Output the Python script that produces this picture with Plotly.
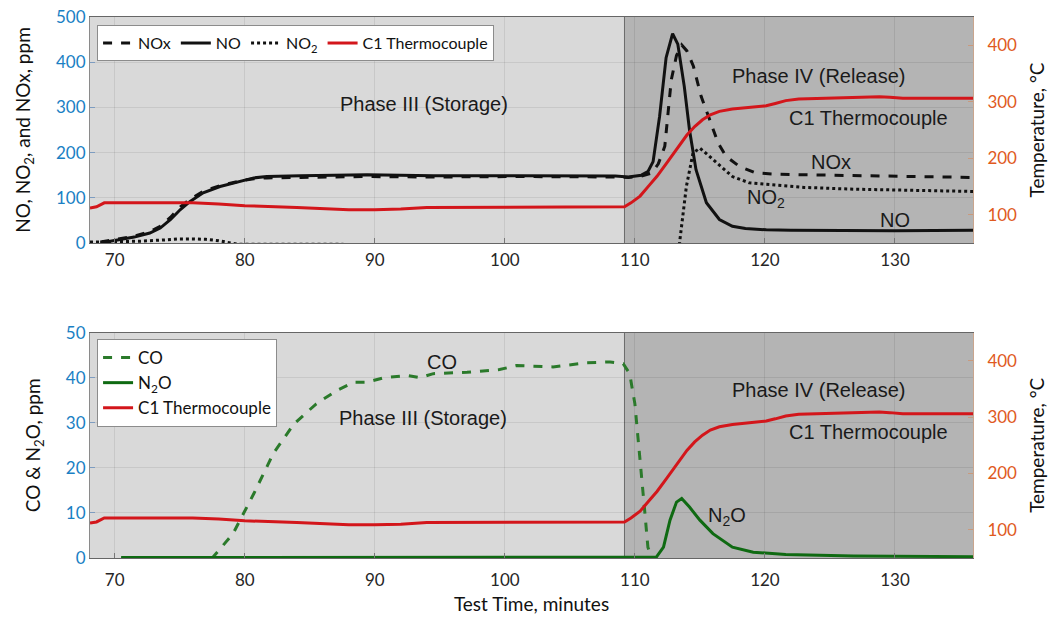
import plotly.graph_objects as go
from plotly.subplots import make_subplots

# ---------------- data ----------------
# Thermocouple C1 temperature (deg C)
temp_t = [68.1, 68.6, 69.2, 70, 73, 76, 78, 80, 84, 88, 90, 92, 94, 100, 105, 109.2, 109.7, 110.4,
          111.1, 111.7, 112.4, 113.2, 114.0, 114.6, 115.2, 115.8, 116.5, 117.5, 119.0, 120.1, 120.8,
          121.6, 122.6, 124.2, 126.5, 128.8, 129.6, 130.6, 133, 136]
temp_v = [112, 114, 121, 121, 121, 121, 119, 116, 113, 109, 109, 110, 113, 113, 113, 114, 121, 133,
          152, 168, 190, 215, 241, 256, 268, 277, 283, 287, 290, 293, 297, 302, 305, 306, 308, 309,
          308, 306, 306, 306]

# NO (ppm)
no_t = [68.9, 70.2, 71.5, 72.7, 73.5, 74.3, 75.05, 75.8, 76.8, 78.1, 79.6, 80.7, 81.7, 84.3, 89.4,
        94.5, 101, 108.5, 109.5, 110.5, 111.0, 111.4, 111.9, 112.4, 112.9, 113.3, 113.8, 114.2, 114.7,
        115.5, 116.5, 117.5, 118.5, 120.1, 122, 125, 130, 136]
no_v = [0, 7, 13, 22, 33, 52, 74, 92, 111, 125, 136, 144, 147, 149, 151, 149, 149, 148, 146, 150, 158,
        180, 280, 410, 463, 440, 346, 250, 162, 89, 52, 37, 32, 29, 28, 27, 27, 28]

# NOx (ppm)
nox_t = [68.9, 70.2, 71.5, 72.7, 73.5, 74.3, 75.05, 75.8, 76.8, 78.1, 79.6, 80.7, 81.7, 84.3, 89.4,
         94.5, 101, 108.5, 109.5, 110.5, 111.3, 111.8, 112.3, 112.8, 113.2, 113.6, 114.0, 114.5, 115.1,
         115.75, 116.4, 117.0, 118.05, 119.3, 121, 125, 130, 136]
nox_v = [2, 9, 15, 25, 37, 57, 80, 97, 114, 127, 137, 142, 144, 145, 147, 146, 147, 146, 145, 148, 155,
         175, 214, 361, 415, 438, 425, 391, 324, 273, 221, 192, 169, 155, 152, 150, 148, 145]

# NO2 (ppm)
no2_t = [68.1, 70, 72, 74, 75, 76, 77, 78, 78.6, 79.5, 85, 95, 105, 110, 112, 113.0, 113.45, 113.96,
         114.47, 115.0, 115.6, 116.3, 117.5, 118.8, 120.6, 123, 126.8, 130, 136]
no2_v = [2, 3, 4, 7, 9, 9, 8, 5, 2, -3, -3, -3, -3, -4, -10, -150, 4, 125, 199, 210, 195, 177, 147,
         133, 128, 123, 119, 117, 114]

# CO (ppm)
co_t = [70.5, 74, 77.5, 79.1, 80.7, 82.2, 83.8, 85.5, 87.1, 88.4, 89.4, 90.7, 92.5, 93.5, 94.5, 97.1,
        99.6, 100.9, 103.7, 106.3, 108.1, 109.1, 109.6, 110.0, 110.25, 110.5, 110.75, 111.0, 111.3]
co_v = [0, 0, 0, 5.4, 14.3, 23.2, 29.8, 34.2, 37.2, 39.0, 39.0, 40.0, 40.5, 40.0, 40.9, 41.2, 41.8,
        42.7, 42.4, 43.3, 43.5, 43.1, 40.9, 34.2, 26.8, 19.5, 10.6, 2.4, 0]

# N2O (ppm)
n2o_t = [70.5, 80, 90, 100, 108, 111.0, 111.65, 112.2, 112.7, 113.2, 113.6, 114.2, 115.0, 116.0, 117.5,
         119.1, 121.6, 126.8, 131, 136]
n2o_v = [0.1, 0.1, 0.1, 0.1, 0.1, 0.1, 0.2, 2.4, 8.4, 12.4, 13.2, 11.3, 8.4, 5.4, 2.4, 1.3, 0.75, 0.45,
         0.35, 0.3]

x_range = [68.1, 136]
phase_split = 109.2
x_ticks = [70, 80, 90, 100, 110, 120, 130]

# ---------------- styles ----------------
RED = "#d3161b"
BLACK = "#111111"
GREEN_D = "#2b7a2b"
GREEN_S = "#0f6a12"
BLUE = "#1a7fc4"
ORANGE = "#e05a1e"
TICKFONT = "Lato"
ANNFONT = "Liberation Sans"

fig = make_subplots(rows=2, cols=1, specs=[[{"secondary_y": True}], [{"secondary_y": True}]])

# top panel
fig.add_trace(go.Scatter(x=nox_t, y=nox_v, name="NOx", mode="lines",
                         line=dict(color=BLACK, width=3, dash="dash"), legend="legend"),
              row=1, col=1, secondary_y=False)
fig.add_trace(go.Scatter(x=no_t, y=no_v, name="NO", mode="lines",
                         line=dict(color=BLACK, width=3), legend="legend"),
              row=1, col=1, secondary_y=False)
fig.add_trace(go.Scatter(x=no2_t, y=no2_v, name="NO<sub>2</sub>", mode="lines",
                         line=dict(color=BLACK, width=3, dash="dot"), legend="legend"),
              row=1, col=1, secondary_y=False)
fig.add_trace(go.Scatter(x=temp_t, y=temp_v, name="C1 Thermocouple", mode="lines",
                         line=dict(color=RED, width=3), legend="legend"),
              row=1, col=1, secondary_y=True)

# bottom panel
fig.add_trace(go.Scatter(x=co_t, y=co_v, name="CO", mode="lines",
                         line=dict(color=GREEN_D, width=3, dash="dash"), legend="legend2"),
              row=2, col=1, secondary_y=False)
fig.add_trace(go.Scatter(x=n2o_t, y=n2o_v, name="N<sub>2</sub>O", mode="lines",
                         line=dict(color=GREEN_S, width=3), legend="legend2"),
              row=2, col=1, secondary_y=False)
fig.add_trace(go.Scatter(x=temp_t, y=temp_v, name="C1 Thermocouple", mode="lines",
                         line=dict(color=RED, width=3), legend="legend2"),
              row=2, col=1, secondary_y=True)

# phase shading
for xr, yr in (("x", "y domain"), ("x2", "y3 domain")):
    fig.add_shape(type="rect", xref=xr, yref=yr, x0=x_range[0], x1=phase_split, y0=0, y1=1,
                  fillcolor="#d9d9d9", line=dict(width=0), layer="below")
    fig.add_shape(type="rect", xref=xr, yref=yr, x0=phase_split, x1=x_range[1], y0=0, y1=1,
                  fillcolor="#b4b4b4", line=dict(width=0), layer="below")
    fig.add_shape(type="line", xref=xr, yref=yr, x0=phase_split, x1=phase_split, y0=0, y1=1,
                  line=dict(color="#6a6a6a", width=1), layer="below")

def ann(text, x, y, xref, yref, size=20):
    fig.add_annotation(text=text, x=x, y=y, xref=xref, yref=yref, showarrow=False,
                       font=dict(family=ANNFONT, size=size, color="#1a1a1a"))

ann("Phase III (Storage)", 93.8, 308, "x", "y")
ann("Phase IV (Release)", 124.1, 370, "x", "y")
ann("C1 Thermocouple", 128.0, 277, "x", "y")
ann("NOx", 125.1, 180, "x", "y")
ann("NO<sub>2</sub>", 120.1, 98, "x", "y")
ann("NO", 130.0, 51, "x", "y")

ann("CO", 95.2, 43.4, "x2", "y3")
ann("Phase III (Storage)", 93.7, 31, "x2", "y3")
ann("Phase IV (Release)", 124.1, 37.2, "x2", "y3")
ann("C1 Thermocouple", 128.0, 27.9, "x2", "y3")
ann("N<sub>2</sub>O", 117.1, 9.3, "x2", "y3")

grid = "rgba(0,0,0,0.08)"
xcommon = dict(domain=[0, 1], range=x_range, tickvals=x_ticks, ticks="inside", ticklen=5,
               tickcolor="#777", showgrid=True, gridcolor=grid, showline=True, linecolor="#666",
               mirror=True, zeroline=False, automargin=False,
               tickfont=dict(family=TICKFONT, size=17, color="#262626"))
yleft = dict(ticks="inside", ticklen=5, tickcolor="#7d9cc0", showgrid=True, gridcolor=grid,
             showline=True, linecolor="#8a8a8a", zeroline=False, automargin=False,
             tickfont=dict(family=TICKFONT, size=17, color=BLUE))
yright = dict(range=[50, 450], tickvals=[100, 200, 300, 400], ticks="inside", ticklen=5,
              tickcolor="#c99a7e", showgrid=False, showline=True, linecolor="#c9a58e",
              zeroline=False, automargin=False, ticklabelstandoff=10,
              tickfont=dict(family=TICKFONT, size=17, color=ORANGE))
titlefont = dict(family=TICKFONT, size=19, color="#111")

fig.update_layout(
    width=1054, height=620,
    margin=dict(l=90, r=81, t=17, b=62),
    paper_bgcolor="white", plot_bgcolor="rgba(0,0,0,0)",
    xaxis=dict(**xcommon, ticklabelstandoff=2),
    xaxis2=dict(**xcommon, ticklabelstandoff=7,
                title=dict(text="Test Time, minutes", standoff=8, font=titlefont)),
    yaxis=dict(**yleft, domain=[0.5823, 1], range=[0, 500], tickvals=[0, 100, 200, 300, 400, 500],
               title=dict(text="NO, NO<sub>2</sub>, and NOx, ppm", standoff=20, font=titlefont)),
    yaxis2=dict(**yright, title=dict(text="Temperature, °C", standoff=14, font=titlefont)),
    yaxis3=dict(**yleft, domain=[0, 0.4166], range=[0, 50], tickvals=[0, 10, 20, 30, 40, 50],
                title=dict(text="CO & N<sub>2</sub>O, ppm", standoff=20, font=titlefont)),
    yaxis4=dict(**yright, title=dict(text="Temperature, °C", standoff=14, font=titlefont)),
    legend=dict(orientation="h", x=0.008, y=0.985, xanchor="left", yanchor="top",
                bgcolor="white", bordercolor="#8c8c8c", borderwidth=1,
                font=dict(family=TICKFONT, size=16, color="#111"), itemwidth=30),
    legend2=dict(orientation="v", x=0.008, y=0.4048, xanchor="left", yanchor="top",
                 bgcolor="white", bordercolor="#8c8c8c", borderwidth=1,
                 font=dict(family=TICKFONT, size=17, color="#111"), itemwidth=30),
    showlegend=True,
)

fig.write_html("out.html")
